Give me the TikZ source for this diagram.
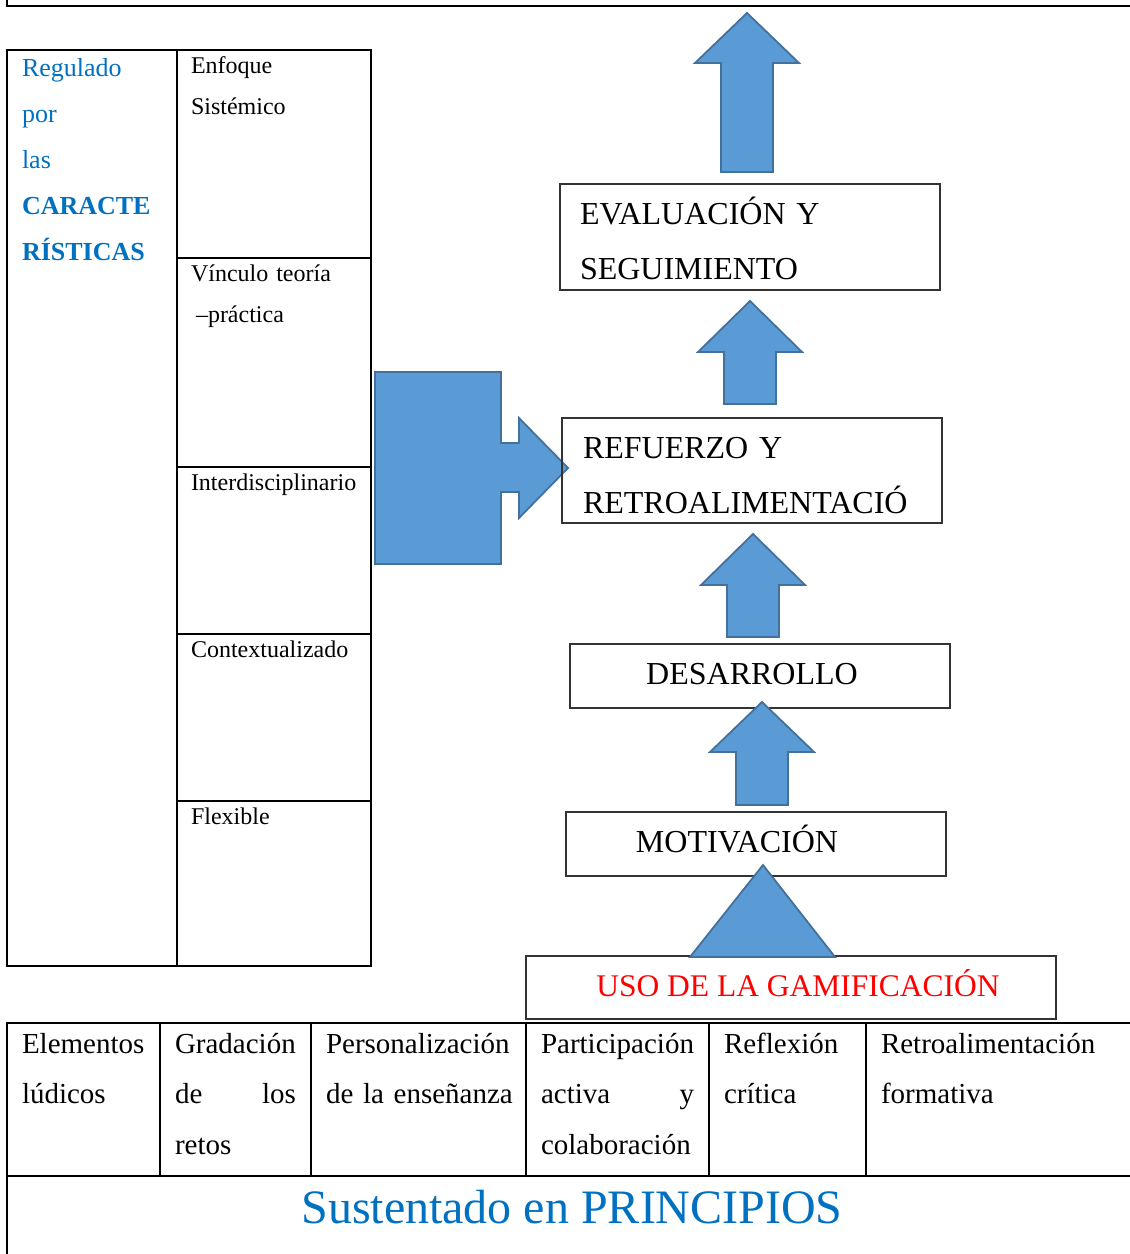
\documentclass[tikz,border=0pt]{standalone}
\usepackage{fontspec}
\setmainfont{Liberation Serif}
\usetikzlibrary{positioning,%
                calc%
              }
\hyphenpenalty=10000
\definecolor{shapeblue}{HTML}{5B9BD5}
\definecolor{shapeline}{HTML}{41719C}
\definecolor{textblue}{HTML}{0070C0}
\def\jfill{\hskip 0pt plus 1filll\relax}
% center x / tip / head base / bottom / name
\def\setofuparrows{747/13/63/172/1, 750/301/352/404/2,
  753/534/585/637/3, 762/702/752/805/4}
% name / center x / center y / width / height
\def\setofsteps{eval/750/237/380/106, refu/752/470.5/380/105,
  desa/760/676/380/64, moti/756/844/380/64, uso/791/987.5/530/63}
% row top / text
\def\setofcharacteristics{50/{Enfoque\\Sistémico},
  258/{Vínculo teoría\\\hspace*{5pt}–práctica},
  467/Interdisciplinario, 634/Contextualizado, 801/Flexible}
% left / right / text
\def\setofprinciples{7/160/{Elementos\\lúdicos},
  160/311/{Gradación\\de\jfill los\\retos},
  311/526/{Personalización\\\mbox{de la enseñanza}},
  526/709/{Participación\\activa\jfill y\\colaboración},
  709/866/{Reflexión\\crítica},
  866/1130/{Retroalimentación\\formativa}}
\begin{document}
\begin{tikzpicture}[x=1pt,y=-1pt,
    every node/.style={inner sep=0pt,outer sep=0pt},
    tableline/.style={line width=1.8pt},
    stepbox/.style={rectangle,draw=black!80,line width=1.3pt},
    blockarrow/.style={fill=shapeblue,draw=shapeline,line width=1.8pt},
    smalltext/.style={font={\fontsize{24}{41}\selectfont},text width=175,align=left},
    regtext/.style={font={\fontsize{26}{46}\selectfont},text=textblue,text width=150,align=left},
    steptext/.style={font={\fontsize{32}{55}\selectfont}},
    celltext/.style={font={\fontsize{29}{50.5}\selectfont},align=left},
    titletext/.style={font={\fontsize{48}{56}\selectfont},text=textblue}]
  \useasboundingbox (0,0) rectangle (1130,1254);

    %% TOP TABLE EDGE
    \draw[tableline] (7,0) -- (7,6) -- (1130,6);

    %% LEFT TABLE
    \draw[tableline] (7,50) rectangle (371,966);
    \draw[tableline] (177,50) -- (177,966);
    \foreach \y/\t in \setofcharacteristics {%
      \ifnum\y>50 \draw[tableline] (177,\y) -- (371,\y);\fi
      \node[smalltext, anchor=base west] (c\y) at (191,\y+23) {\t};
    }
    \node[regtext, anchor=base west] (regulado) at (22,76)
      {Regulado\\por\\las\\\textbf{CARACTE}\\\textbf{RÍSTICAS}};

    %% BIG ARROW
    \draw[blockarrow] (375,372) -- (501,372) -- (501,443) -- (519,443)
      -- (519,418) -- (568,468) -- (519,518) -- (519,492) -- (501,492)
      -- (501,564) -- (375,564) -- cycle;

    %% STEPS
    \foreach \n/\cx/\cy/\w/\h in \setofsteps {%
      \node[stepbox, minimum width=\w, minimum height=\h] (\n) at (\cx,\cy) {};
    }
    \node[steptext, anchor=base west, text width=340, align=left] (evaltxt)
      at (580,224) {EVALUACIÓN Y\\SEGUIMIENTO};
    \node[steptext, anchor=base west, text width=340, align=left] (refutxt)
      at (583,458) {REFUERZO Y\\RETROALIMENTACIÓ};
    \node[steptext, anchor=base] (desatxt) at (752,684) {DESARROLLO};
    \node[steptext, anchor=base] (motitxt) at (737,852) {MOTIVACIÓN};
    \node[steptext, anchor=base, text=red, font={\fontsize{31.5}{40}\selectfont}]
      (usotxt) at (798,996) {USO DE LA GAMIFICACIÓN};

    %% UP ARROWS
    \foreach \cx/\ty/\hy/\by/\n in \setofuparrows {%
      \draw[blockarrow] (\cx,\ty) -- (\cx+52,\hy) -- (\cx+26,\hy) -- (\cx+26,\by)
        -- (\cx-26,\by) -- (\cx-26,\hy) -- (\cx-52,\hy) -- cycle;
    }
    \draw[blockarrow] (763,865) -- (835,957) -- (690,957) -- cycle;

    %% BOTTOM TABLE
    \draw[tableline] (7,1254) -- (7,1023) -- (1130,1023);
    \draw[tableline] (7,1176) -- (1130,1176);
    \foreach \a/\b/\t in \setofprinciples {%
      \pgfmathsetmacro\tw{\b-\a-30}
      \ifnum\a>7 \draw[tableline] (\a,1023) -- (\a,1176);\fi
      \node[celltext, anchor=base west, text width=\tw pt] (p\a) at (\a+15,1053) {\t};
    }
    \node[titletext, anchor=base] (sustentado) at (572,1223) {Sustentado en PRINCIPIOS};

  \end{tikzpicture}
\end{document}
